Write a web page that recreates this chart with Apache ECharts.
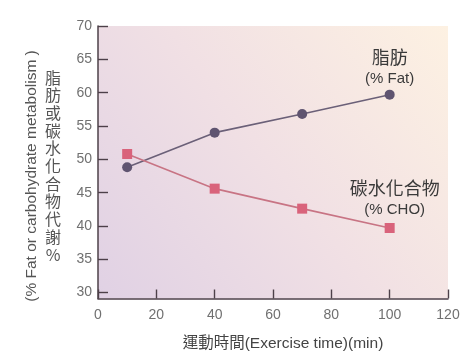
<!DOCTYPE html>
<html>
<head>
<meta charset="utf-8">
<script src="https://cdn.jsdelivr.net/npm/echarts@6/dist/echarts.min.js"></script>
<style>
html,body{margin:0;padding:0;background:#fff;}
#chart{width:475px;height:356px;}
</style>
</head>
<body>
<div id="chart"></div>
<script>
// Data
var times = [10, 40, 70, 100];
var fatPct = [48.8, 54.0, 56.8, 59.7];
var choPct = [50.8, 45.6, 42.6, 39.7];
var yTicks = [30, 35, 40, 45, 50, 55, 60, 65, 70];
var fatLabel = ['脂肪', '(% Fat)'];
var choLabel = ['碳水化合物', '(% CHO)'];
var yNameEn = '(% Fat or carbohydrate metabolism )';
var yNameZh = '脂肪或碳水化合物代謝%';
var xName = '運動時間(Exercise time)(min)';

var FONT = '"Liberation Sans", Arial, "Noto Sans CJK TC", sans-serif';
var CJK = '"Noto Sans CJK TC", "Liberation Sans", sans-serif';
var axisColor = '#4d4049';

var chart = echarts.init(document.getElementById('chart'), null, {renderer: 'canvas'});

function pairs(xs, ys) { return xs.map(function (x, i) { return [x, ys[i]]; }); }
function endLabel(lines) {
  return function (p) {
    return p.dataIndex === times.length - 1 ? '{a|' + lines[0] + '}\n{b|' + lines[1] + '}' : '';
  };
}
var labelRich = {
  a: {fontFamily: CJK, fontSize: 18, color: '#3a3a3a', lineHeight: 24, align: 'center'},
  b: {fontFamily: FONT, fontSize: 15, color: '#3a3a3a', lineHeight: 20, align: 'center'}
};

chart.setOption({
  animation: false,
  backgroundColor: '#ffffff',
  grid: {
    left: 98, right: 27, top: 26, bottom: 52,
    show: true, borderWidth: 0,
    backgroundColor: new echarts.graphic.LinearGradient(0, 1, 1, 0, [
      {offset: 0, color: '#e0d1e4'},
      {offset: 0.5, color: '#f1e0e4'},
      {offset: 1, color: '#fdf1e2'}
    ])
  },
  xAxis: {
    type: 'value', min: 0, max: 120, interval: 20,
    name: xName, nameLocation: 'middle', nameGap: 37,
    nameTextStyle: {fontFamily: FONT, fontSize: 15.5, color: '#444', padding: [0, 0, 0, 20]},
    axisLine: {show: true, lineStyle: {color: axisColor, width: 1.5}},
    axisTick: {show: true, inside: true, length: 9, lineStyle: {color: axisColor, width: 1.4}},
    axisLabel: {fontFamily: FONT, fontSize: 14, color: '#707070', margin: 10},
    splitLine: {show: false}
  },
  yAxis: {
    type: 'value', min: 29.12, max: 70,
    axisLine: {show: true, lineStyle: {color: axisColor, width: 1.5}},
    axisTick: {show: true, inside: true, length: 10, customValues: yTicks, lineStyle: {color: axisColor, width: 1.4}},
    axisLabel: {fontFamily: FONT, fontSize: 14, color: '#707070', margin: 6, customValues: yTicks},
    splitLine: {show: false}
  },
  graphic: [
    {
      type: 'text', x: 32, y: 176, rotation: Math.PI / 2,
      style: {text: yNameEn, font: '15.5px ' + FONT, fill: '#555', align: 'center', verticalAlign: 'middle'}
    },
    {
      type: 'text', x: 53, y: 166,
      style: {text: yNameZh.split('').join('\n'), font: '16px ' + CJK, lineHeight: 17.7, fill: '#555', align: 'center', verticalAlign: 'middle'}
    }
  ],
  series: [
    {
      name: 'Fat', type: 'line', data: pairs(times, fatPct),
      symbol: 'circle', symbolSize: 10,
      lineStyle: {color: '#6b6078', width: 1.6},
      itemStyle: {color: '#5f5470'},
      label: {show: true, position: 'top', distance: 1, formatter: endLabel(fatLabel), rich: labelRich}
    },
    {
      name: 'CHO', type: 'line', data: pairs(times, choPct),
      symbol: 'rect', symbolSize: 10,
      lineStyle: {color: '#c87484', width: 1.6},
      itemStyle: {color: '#d9637b'},
      label: {show: true, position: 'top', distance: 3, offset: [5, 0], formatter: endLabel(choLabel), rich: labelRich}
    }
  ]
});
</script>
</body>
</html>
